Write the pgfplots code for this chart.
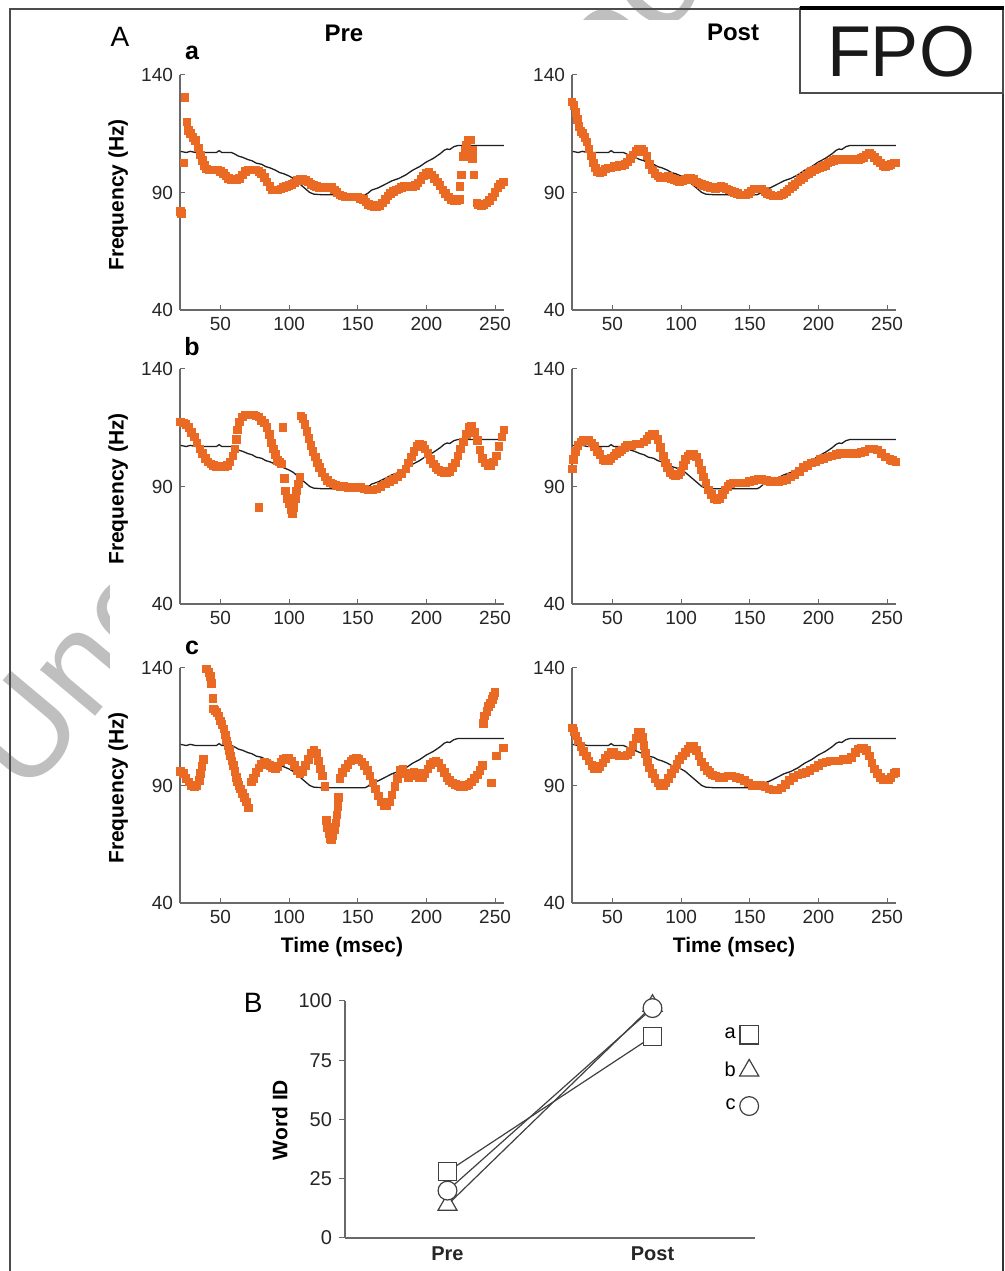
\documentclass[border=0pt]{standalone}
\usepackage{fontspec}
\setmainfont{Liberation Sans}
\usepackage{pgfplots}
\usepackage{pgfplotstable}
\pgfplotsset{compat=1.18}

\definecolor{orng}{RGB}{234,106,36}
\definecolor{axgray}{RGB}{105,105,105}

\pgfplotstableread{
x y
21 107.5
25 107
28 107.5
32 107
40 107
47 107
49 107.8
51 107
58 107
60 106.5
63 105.5
66 105
70 104
73 103.5
76 102.5
80 102
83 101
86 100.5
90 99.5
93 98.5
96 98
100 97
103 96
105 95
108 93.5
110 92.5
113 91
115 90
118 89.3
125 89
135 89
145 89
155 89
157 89.5
160 91
165 92
170 93.5
175 95
180 96
185 97.5
190 99.5
195 101
200 103
205 104.5
210 106.5
213 108
215 108.5
217 108.3
220 109.5
223 110
230 110
256.5 110
}\tmpl

\pgfplotsset{
  panel/.style={
    scale only axis, width=162pt, height=117.5pt, anchor=south west,
    xmin=20.5, xmax=256.5, ymin=40, ymax=140,
    axis x line*=bottom, axis y line*=left,
    axis line style={axgray, line width=0.6pt},
    xtick={50,100,150,200,250}, ytick={40,90,140},
    tick align=inside, major tick length=2.5pt,
    tick style={axgray, line width=0.5pt},
    tick label style={font=\fontsize{9.5}{11}\selectfont, text=black!85},
    /pgf/number format/assume math mode=true,
    ylabel style={at={(axis description cs:-0.191,0.49)}, anchor=center, font=\bfseries\fontsize{10.5}{12}\selectfont},
    xlabel style={at={(axis description cs:0.5,-0.187)}, anchor=center, font=\bfseries\fontsize{10.5}{12}\selectfont},
    clip=false,
  },
  orpts/.style={only marks, mark=square*, mark size=1.9pt, color=orng, mark options={draw=orng, fill=orng, line width=0pt}},
  tline/.style={black!88, line width=0.65pt, no marks},
}

\begin{document}
\begin{tikzpicture}
\path[use as bounding box] (0,0) rectangle (502.5pt,635.5pt);
% watermark
\begin{scope}
\clip (0,0) rectangle (502.5pt,635.5pt);
\node[rotate=50, anchor=base west, inner sep=0pt, text=black!25, font=\fontsize{68}{68}\selectfont] at (13pt,236pt) {Uncorrected Proof};
\end{scope}
\fill[white] (55pt,0) rectangle (501.5pt,625.5pt);

% ---------- a Pre
\begin{axis}[panel, at={(90pt,480.5pt)}, ylabel={Frequency (Hz)}]
\addplot[orpts] table {
21 82
21.5 81
23.5 102.5
24 130.5
25.5 120
26.5 116.5
28 115
30 113.5
32 112
34 109
35.5 106
37 103.5
38.5 101.5
40 100
42 99.5
44 99.5
46 99.5
48 99.5
50 99
52 98
54 97
56 96
58 95.5
60 95.5
62 95.5
64 96
66 97.5
68 99
70 99.5
72 99.5
74 99.5
76 99.5
78 99
80 98
82 96.5
84 94.5
86 92.5
88 91
90 91
92 91
94 91.5
96 92
98 92.5
100 93
102 93.5
104 94
106 95
108 95.5
110 95.5
112 95
114 94.5
116 93.5
118 93
120 92.5
122 92
125 92
128 92
131 92
133 91
135 90
137 89
139 88.5
141 88
144 88
147 88
150 88
152 87.5
154 87
156 86
158 85
160 84.5
162 84
164 84
166 84.5
168 85.5
170 87
172 88.5
174 89.5
176 90.5
178 91
180 91.5
182 92
184 92.5
186 92.5
188 92.5
190 92.5
192 93
194 94
196 95.5
198 97
200 98
202 98.5
204 97.5
206 96
208 94.5
210 93
212 91
214 89.5
216 88
218 87
220 86.5
222 86.5
224 87
224.5 92.5
225.7 97.5
226.9 105.3
228 108
229.4 110.2
230.5 112.3
232 112.3
233.5 108
233.6 104.5
234.7 97.5
236.7 85.5
238 85
240 84.5
242 85
244 85.5
246 86.5
248 88
250 90
252 92
254 93.5
256 94.5
}; 
\addplot[tline] table {\tmpl};
\node[font=\fontsize{14}{16}\selectfont] at (axis description cs:-0.185,1.162) {A};
\node[font=\bfseries\fontsize{12.5}{14}\selectfont] at (axis description cs:0.037,1.094) {a};
\node[font=\bfseries\fontsize{12}{14}\selectfont] at (axis description cs:0.506,1.179) {Pre};
\end{axis}

% ---------- a Post
\begin{axis}[panel, at={(286pt,480.5pt)}]
\addplot[orpts] table {
20.5 128.5
22 127
23.5 124
24.5 121
25.5 118
27 116
28.5 115
30 113.5
31.5 111.5
33 108.5
34.5 105.5
36 102.5
37.5 100.5
39 99
41 98.5
43 99
45 100
47 100.5
49 100.5
51 101
53 101
55 101.5
57 101.5
59 102
61 103
63 104.5
65 106
67 107.5
69 108.5
71 108.5
73 107.5
75 105.5
77 102
79 99.5
81 98
83 97
85 96.5
87 96.5
89 96.5
91 97
93 96
95 95.5
97 95
99 94.5
101 95
103 95.5
105 96
107 96
109 95.5
111 94.5
113 94
115 93.5
117 93
119 92.5
121 92
123 92
125 91.5
127 92
129 92.5
131 92
133 91.5
135 91
137 90.5
139 90
141 89.5
143 89
145 89
147 89
149 89.5
151 90.5
153 91.5
155 91.5
157 91.5
159 91.5
161 90.5
163 89.5
165 89
167 88.5
169 88.5
171 88.5
173 89
175 89.5
177 90.5
179 91.5
181 92.5
183 93.5
185 94.5
187 95.5
189 96.5
191 97.5
193 98
195 99
197 99.5
199 100
201 100.5
203 101
205 101.5
207 102.5
209 103
211 103.5
213 104
215 104
217 104
219 104
221 104
223 104
225 104
227 104
229 104
231 104.5
233 105
235 106
237 106.5
239 106
241 105
243 103.5
245 102.5
247 101.5
249 101
251 101.5
253 102
255 102.5
256.5 102.5
};
\addplot[tline] table {\tmpl};
\node[font=\bfseries\fontsize{12}{14}\selectfont] at (axis description cs:0.497,1.18) {Post};
\end{axis}

% ---------- b Pre
\begin{axis}[panel, at={(90pt,333.5pt)}, ylabel={Frequency (Hz)}]
\addplot[orpts] table {
21 117.5
23 117
25 116.5
27 115
29 113
31 111
33 108.5
35 106
37 104
39 102
41 100.5
43 99.5
45 99
47 98.5
49 98.5
51 98.5
53 98.5
55 99
57 100.5
59 103
60.5 106
61.5 110
62.5 114
64 117.5
66 119.5
68 120.5
70 120.5
72 120.5
74 120.5
76 120
78 119.5
80 118
82 117
84 115
85.5 112
87 108.5
88.5 106
90 103.5
91.5 101
93 100.5
94.5 99.5
78 81
95.5 115
96.5 93.5
97.5 88
98.5 85
100 82.5
101.5 80
102.5 78.5
103.5 81
104.5 85
105.5 88
107 91
108 94
108.5 120
110 119
111.5 116.5
113 113.5
114.5 110.5
116 107.5
117.5 105
119 102.5
120.5 100
122 98
124 96
126 94
128 92.5
130 91.5
132 91
134 90.5
137 90
140 90
143 89.5
146 89.5
149 89.5
152 89.5
155 89
158 88.5
161 88.5
164 89
167 90
170 91
173 92
176 93
179 94
182 95.5
185 97.5
187 100
189 102.5
191 105
193 107
195 108
197 107.5
199 106
201 104
203 101.5
205 99.5
207 98
209 97
211 96.5
213 96
215 96
217 96.5
219 98
221 100
223 103
225 106
227 109
229 112
231 115
233 115.5
235 113
237 109.5
239 105.5
241 102
243 100
245 99
247 99
249 100.5
251 103
253 107
255 111
256.5 114
};
\addplot[tline] table {\tmpl};
\node[font=\bfseries\fontsize{12.5}{14}\selectfont] at (axis description cs:0.037,1.094) {b};
\end{axis}

% ---------- b Post
\begin{axis}[panel, at={(286pt,333.5pt)}]
\addplot[orpts] table {
21 97.5
21.5 101.5
23 105
25 107.5
27 109
29 109.5
31 109.5
33 109.5
35 108.5
37 107
39 105
41 103.5
43 101.5
45 101
47 101
49 102
51 103
53 104
55 105
57 105.5
59 106.5
61 107.5
64 107.5
67 108
70 108
73 109
75 110
77 111.5
79 112
81 112
83 110
85 106.5
87 103
88.5 100
90 98
92 96
94 95
96 94.5
98 95
100 96.5
101.5 99
103 101.5
105 103
107 103.5
109 103.5
111 102.5
113 100
115 97
116.5 94
118 91.5
120 88.5
122 86.5
124 85
126 84.5
128 85
130 86.5
132 88.5
134 90
136 91
138 91.5
141 91.5
144 91.5
147 91.5
150 92
153 92.5
156 93
159 93
162 92.5
165 92
168 92
171 92
174 92.5
177 93
180 94
183 95
186 96.5
189 98
192 99
195 100
198 100.5
201 101.5
204 102
207 102.5
210 103
213 103.5
216 104
219 104
222 104
225 104
228 104
231 104.5
234 105
237 106
240 106
243 105.5
246 104
249 102.5
252 101.5
254 101
256.5 100.5
};
\addplot[tline] table {\tmpl};
\end{axis}

% ---------- c Pre
\begin{axis}[panel, at={(90pt,184pt)}, ylabel={Frequency (Hz)}, xlabel={Time (msec)}]
\addplot[orpts] table {
21 96
23 95
25 93
27 91.5
29 90
31 89.5
33 90
34.5 92
35.5 95
36.5 98
37.5 101
40 139.5
41.5 138
42.5 136.5
43.5 133.5
44.5 127
45 122.5
46 122
47.5 121
49 119.5
50 117.5
51 116
52.5 114
53.5 111.5
54.5 109
55.5 107
56.5 105
57.5 102.5
58.5 100.5
59.5 98.5
60.5 96
61.5 93.5
62.5 91.5
63.5 90
64.5 88.5
66 86.5
67.5 85
69 83
70.5 80.5
72.5 91.5
74 93
76 95.5
78 97.5
80 99
82 100
84 99.5
86 98.5
88 97.5
90 97
92 98
94 100
96 101
98 101.5
100 101.5
102 100.5
104 98.5
106 96.5
108 95
110 96
112 98.5
114 101
116 103.5
118 105
120 103.5
121.5 100.5
123 97
124.5 94
126 89.5
127 75
128 72
129 69.5
130 67.5
131 67
132 68.5
133 71
134 74
135 77.5
135.5 81
136 85
137 93
139 95.5
141 97.5
143 99
145 100.5
147 101
149 101.5
151 101
153 100
155 98.5
157 96.5
159 94
161 91
163 88.5
165 85.5
167 83
169 81.5
171 81.5
173 83
175 86
177 89.5
179 93
181 96.5
183 97
185 95
187 93.5
189 94
191 95.5
193 95
195 93.5
197 93.5
199 95
201 97
203 99
205 100
207 100.5
209 99.5
211 97.5
213 95.5
215 93.5
217 92
219 91
221 90.5
223 90
225 89.5
227 89.5
229 90
231 90.5
233 91.5
235 93
237 94.5
239 96.5
241 98.5
241.5 116.5
242.5 119.5
244 121.5
245 123.5
246.5 125
247.5 91
248 126.5
249 128
250 129.5
251 102.5
256 106
};
\addplot[tline] table {\tmpl};
\node[font=\bfseries\fontsize{12.5}{14}\selectfont] at (axis description cs:0.037,1.085) {c};
\end{axis}

% ---------- c Post
\begin{axis}[panel, at={(286pt,184pt)}, xlabel={Time (msec)}]
\addplot[orpts] table {
21 114.5
22 113
23.5 111
25 109
27 106.5
29 104.5
31 102.5
33 100.5
35 98.5
37 97
39 97
41 98
43 99.5
45 101.5
47 103
49 104
51 104
53 103
55 102.5
57 102.5
59 102.5
61 103
63 104.5
65 107
67 110
69 112.5
70.5 112.5
72 110.5
73 107
74 103.5
75.5 100
77 97.5
79 95
81 93
83 91
85 90
87 90
89 91
91 93
93 95
95 97
97 99
99 101
101 102.5
103 104
105 105.5
107 106.5
109 106.5
111 105
113 102.5
115 100
117 98
119 96.5
121 95.5
123 94.5
125 94
128 93.5
131 93.5
134 94
137 94
140 93.5
143 93
146 92
149 91
152 90
155 90
158 90
161 89.5
164 88.5
167 88
170 88
173 89
176 90.5
179 92
182 93.5
185 94.5
188 95
191 95.5
194 96.5
197 97.5
200 98.5
203 99.5
206 100
209 100.5
212 100.5
215 100.5
218 101
221 101
224 102
227 104
229 105.5
231 106
233 106
235 105
237 102.5
239 99.5
241 97
243 95
245 93.5
247 92.5
249 92.5
251 92.5
253 93.5
255 95
256.5 95.5
};
\addplot[tline] table {\tmpl};
\end{axis}

% ---------- Panel B
\begin{axis}[scale only axis, width=205pt, height=118.5pt, at={(172.5pt,16.5pt)}, anchor=south west,
  xmin=-0.5, xmax=1.5, ymin=0, ymax=100, clip=false,
  axis x line*=bottom, axis y line*=left,
  axis line style={axgray, line width=0.6pt},
  xtick={0,1}, xticklabels={Pre,Post},
  xticklabel style={font=\bfseries\fontsize{10}{12}\selectfont, text=black!85, yshift=2pt},
  x tick style={draw=none},
  ytick={0,25,50,75,100},
  tick align=outside, major tick length=3pt,
  y tick style={axgray, line width=0.5pt},
  yticklabel style={font=\fontsize{10}{12}\selectfont, text=black!85},
  /pgf/number format/assume math mode=true,
  ylabel={Word ID},
  ylabel style={at={(axis description cs:-0.159,0.498)}, anchor=center, font=\bfseries\fontsize{10.5}{12}\selectfont},
  legend plot pos=right,
  legend style={draw=none, fill=none, at={(axis description cs:0.915,0.905)}, anchor=north west,
     font=\fontsize{10}{12}\selectfont, row sep=6pt, inner sep=0pt},
  legend cell align=right,
]
\addplot[black!75, line width=0.6pt, forget plot] coordinates {(0,28) (1,85)};
\addplot[black!75, line width=0.6pt, forget plot] coordinates {(0,14) (1,98)};
\addplot[black!75, line width=0.6pt, forget plot] coordinates {(0,20) (1,97)};
\addplot[only marks, mark=square*, mark size=4.6pt, mark options={draw=black!75, fill=white, line width=0.6pt}] coordinates {(0,28) (1,85)};
\addplot[only marks, mark=triangle*, mark size=5.5pt, mark options={draw=black!75, fill=white, line width=0.6pt}] coordinates {(0,14) (1,98)};
\addplot[only marks, mark=*, mark size=4.7pt, mark options={draw=black!75, fill=white, line width=0.6pt}] coordinates {(0,20) (1,97)};
\legend{a,b,c}
\node[font=\fontsize{14}{16}\selectfont] at (axis description cs:-0.224,0.99) {B};
\end{axis}

% frame and FPO box
\draw[black!70, line width=1pt] (5pt,0) -- (5pt,631pt) -- (400pt,631pt);
\draw[black!80, line width=1pt] (501.5pt,0) -- (501.5pt,589pt);
\draw[black!70, line width=0.8pt] (400pt,589pt) rectangle (501.5pt,631.5pt);
\draw[black, line width=1.6pt] (400pt,631.5pt) -- (502pt,631.5pt);
\node[font=\fontsize{36}{40}\selectfont, text=black!90] at (450.5pt,609.5pt) {FPO};
\end{tikzpicture}
\end{document}
